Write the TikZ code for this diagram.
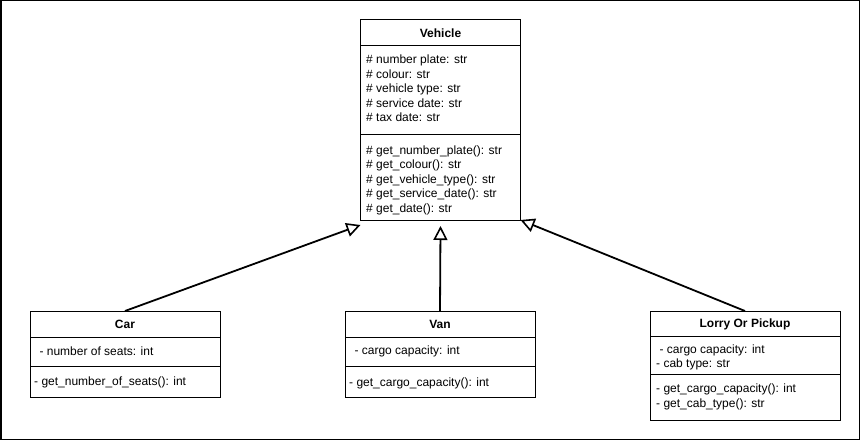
\documentclass[tikz,border=0pt]{standalone}
\usepackage{fontspec}
\setmainfont{Liberation Sans}
\usetikzlibrary{arrows.meta,calc}
\begin{document}
\begin{tikzpicture}[x=1pt,y=-1pt,
  umlbox/.style={draw=black, line width=1pt, fill=white, inner sep=0pt, outer sep=0pt},
  divider/.style={draw=black, line width=1pt},
  title/.style={font=\fontsize{12}{14}\selectfont\bfseries, inner sep=0pt, anchor=center},
  member/.style={font=\fontsize{12}{14}\selectfont, inner sep=0pt, anchor=west},
  inherit/.style={draw=black, line width=1.8pt, -{Triangle[open, length=14pt, width=14pt, line width=1.6pt]}}
]
\useasboundingbox (0,0) rectangle (861,441);
\draw[line width=1.5pt] (0.75,0.75) rectangle (859.5,439.5);

% Vehicle
\node[umlbox, minimum width=160pt, minimum height=200pt] (vehicle) at (440.5,120) {};
\draw[divider] (360.5,46) -- (520.5,46);
\draw[divider] (360.5,134) -- (520.5,134);
\node[title] (vt) at (440.5,33) {Vehicle};
\node[member] (va1) at (366,60) {\# number plate: str};
\node[member] (va2) at (366,74.5) {\# colour: str};
\node[member] (va3) at (366,89) {\# vehicle type: str};
\node[member] (va4) at (366,103) {\# service date: str};
\node[member] (va5) at (366,117.5) {\# tax date: str};
\node[member] (vm1) at (366,151) {\# get\_number\_plate(): str};
\node[member] (vm2) at (366,165.5) {\# get\_colour(): str};
\node[member] (vm3) at (366,180) {\# get\_vehicle\_type(): str};
\node[member] (vm4) at (366,194.5) {\# get\_service\_date(): str};
\node[member] (vm5) at (366,209) {\# get\_date(): str};

% Car
\node[umlbox, minimum width=190pt, minimum height=86pt] (car) at (125,354) {};
\draw[divider] (30,337) -- (220,337);
\draw[divider] (30,366) -- (220,366);
\node[title] (ct) at (125,324) {Car};
\node[member] (ca1) at (36,351.5) {\ - number of seats: int};
\node[member] (cm1) at (34,382) {- get\_number\_of\_seats(): int};

% Van
\node[umlbox, minimum width=190pt, minimum height=86pt] (van) at (440,354) {};
\draw[divider] (345,337) -- (535,337);
\draw[divider] (345,366) -- (535,366);
\node[title] (nt) at (440,324) {Van};
\node[member] (na1) at (351,351.5) {\ - cargo capacity: int};
\node[member] (nm1) at (349,383) {- get\_cargo\_capacity(): int};

% Lorry Or Pickup
\node[umlbox, minimum width=190pt, minimum height=109pt] (lorry) at (745,365.5) {};
\draw[divider] (650,336.5) -- (840,336.5);
\draw[divider] (650,374.5) -- (840,374.5);
\node[title] (lt) at (745,324) {Lorry Or Pickup};
\node[member] (la1) at (656,350) {\ - cargo capacity: int};
\node[member] (la2) at (656,364) {- cab type: str};
\node[member] (lm1) at (656,389.5) {- get\_cargo\_capacity(): int};
\node[member] (lm2) at (656,404) {- get\_cab\_type(): str};

% connectors
\coordinate (tipcar) at ($(vehicle.south west)+(0,5)$);
\coordinate (tipvan) at ($(vehicle.south)+(0,6)$);
\coordinate (tiplorry) at (vehicle.south east);
\draw[inherit] (car.north) -- (tipcar);
\draw[inherit] (van.north) -- (tipvan);
\draw[inherit] (lorry.north) -- (tiplorry);
\end{tikzpicture}
\end{document}
